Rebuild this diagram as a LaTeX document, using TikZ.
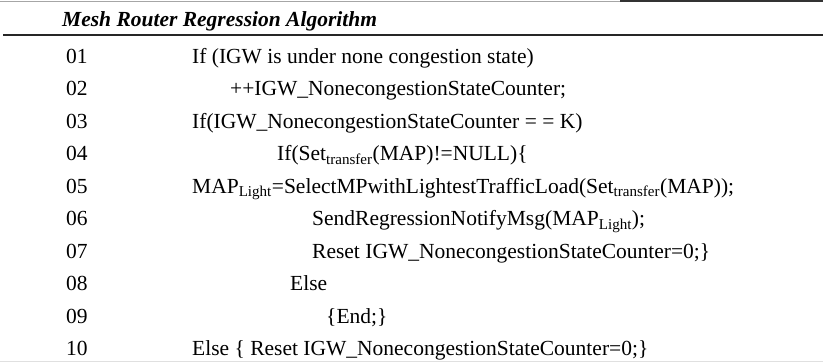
\documentclass[tikz,border=0pt]{standalone}
\usepackage{fontspec}
\setmainfont{Liberation Serif}

\begin{document}
\begin{tikzpicture}[x=1pt,y=-1pt]
    \tikzstyle{every node}=[anchor=base west, inner sep=0pt, font=\fontsize{21.5}{24}\selectfont]
    \tikzstyle{rule}=[line width=1.6pt, black!85]
    \useasboundingbox (0,0) rectangle (823,363);
    % table rules
    \coordinate (topl) at (0,1);
    \coordinate (topm) at (620,1);
    \coordinate (topr) at (823,1);
    \coordinate (headl) at (3,35);
    \coordinate (headr) at (823,35);
    \coordinate (botl) at (0,361.5);
    \coordinate (botr) at (823,361.5);
    \draw[line width=0.8pt, black!35] (topl) -- (topm);
    \draw[line width=1.2pt, black!80] (topm) -- (topr);
    \draw[rule] (headl) -- (headr);
    \draw[line width=0.8pt, black!12] (botl) -- (botr);
    % heading
    \node (title) at (62,27) {\bfseries\itshape Mesh Router Regression Algorithm};
    % line numbers
    \node (n01) at (66,63.5) {01};
    \node (n02) at (66,96) {02};
    \node (n03) at (66,128.5) {03};
    \node (n04) at (66,161) {04};
    \node (n05) at (66,193.5) {05};
    \node (n06) at (66,226) {06};
    \node (n07) at (66,258.5) {07};
    \node (n08) at (66,291) {08};
    \node (n09) at (66,323.5) {09};
    \node (n10) at (66,356) {10};
    % code lines
    \node (c01) at (192,63.5) {If (IGW is under none congestion state)};
    \node (c02) at (230,96) {++IGW\_NonecongestionStateCounter;};
    \node (c03) at (192,128.5) {If(IGW\_NonecongestionStateCounter = = K)};
    \node (c04) at (277,161) {If(Set\textsubscript{transfer}(MAP)!=NULL)\{};
    \node (c05) at (192,193.5) {MAP\textsubscript{Light}=SelectMPwithLightestTrafficLoad(Set\textsubscript{transfer}(MAP));};
    \node (c06) at (312,226) {SendRegressionNotifyMsg(MAP\textsubscript{Light});};
    \node (c07) at (312,258.5) {Reset IGW\_NonecongestionStateCounter=0;\}};
    \node (c08) at (290,291) {Else};
    \node (c09) at (326,323.5) {\{End;\}};
    \node (c10) at (192,356) {Else \{ Reset IGW\_NonecongestionStateCounter=0;\}};
\end{tikzpicture}
\end{document}
